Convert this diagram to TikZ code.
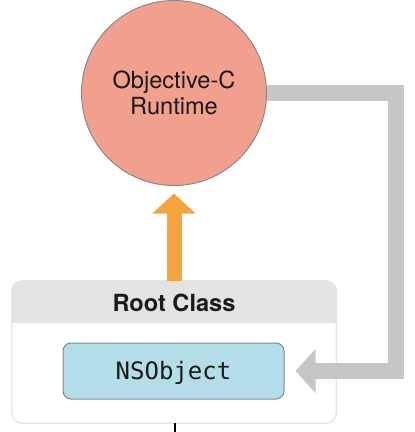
\documentclass[tikz,border=0pt]{standalone}
\usepackage{fontspec}
\setmainfont{TeX Gyre Heros}
\setmonofont{DejaVu Sans Mono}
\usepackage{tikz}
\usetikzlibrary{arrows.meta,positioning}
\definecolor{runtimeRed}{HTML}{F0A08D}
\definecolor{circleEdge}{HTML}{8A8A8A}
\definecolor{superOrange}{HTML}{F4A43E}
\definecolor{isaGray}{HTML}{C6C6C6}
\definecolor{headerGray}{HTML}{E2E3E3}
\definecolor{boxEdge}{HTML}{E3E4E4}
\definecolor{classBlue}{HTML}{B3DDE8}
\definecolor{classEdge}{HTML}{7F898C}
\definecolor{koyuYazi}{HTML}{1A1A1A}

\begin{document}
\begin{tikzpicture}[x=1pt,y=-1pt,
  bigfont/.style={font=\fontsize{23.6}{26}\selectfont},
  superarrow/.style={superOrange,line width=15pt,-{Triangle[length=20pt,width=42pt]}},
  isaarrow/.style={isaGray,line width=15.5pt,line join=miter,-{Triangle[length=20pt,width=43pt]}}]
\useasboundingbox (0,0) rectangle (415,432);
\node[circle,draw=circleEdge,fill=runtimeRed,line width=1pt,minimum size=185pt,inner sep=0pt,
  align=center,bigfont,text=koyuYazi] (runtime) at (174,93) {Objective-C\\Runtime};
\node[minimum width=324pt,minimum height=142pt,fill=white] (root) at (174,352) {};
\begin{scope}
\clip[rounded corners=10pt] (root.south west) rectangle (root.north east);
\fill[headerGray] (root.north west) rectangle ([yshift=-42pt]root.north east);
\end{scope}
\draw[boxEdge,line width=1.3pt,rounded corners=10pt] (root.south west) rectangle (root.north east);
\node[font=\bfseries\fontsize{23.6}{26}\selectfont,text=koyuYazi,text height=17pt,text depth=0pt] (rootTitle) at (174,303) {Root Class};
\node[draw=classEdge,fill=classBlue,rounded corners=8pt,line width=1pt,minimum width=221pt,minimum height=56pt,
  font=\ttfamily\fontsize{24}{26}\selectfont,text=koyuYazi,text height=17.5pt,text depth=0pt] (nsobject) at (173.5,371) {NSObject};
\draw[superarrow,shorten >=7.5pt] (root.north) -- (runtime.south);
\coordinate (bend) at (396,93);
\draw[isaarrow,shorten >=11pt] (runtime.east) -- (bend) |- (nsobject.east);
\coordinate (tickEnd) at (175,432);
\draw[line width=1.3pt] (root.south -| tickEnd) -- (tickEnd);
\end{tikzpicture}
\end{document}
